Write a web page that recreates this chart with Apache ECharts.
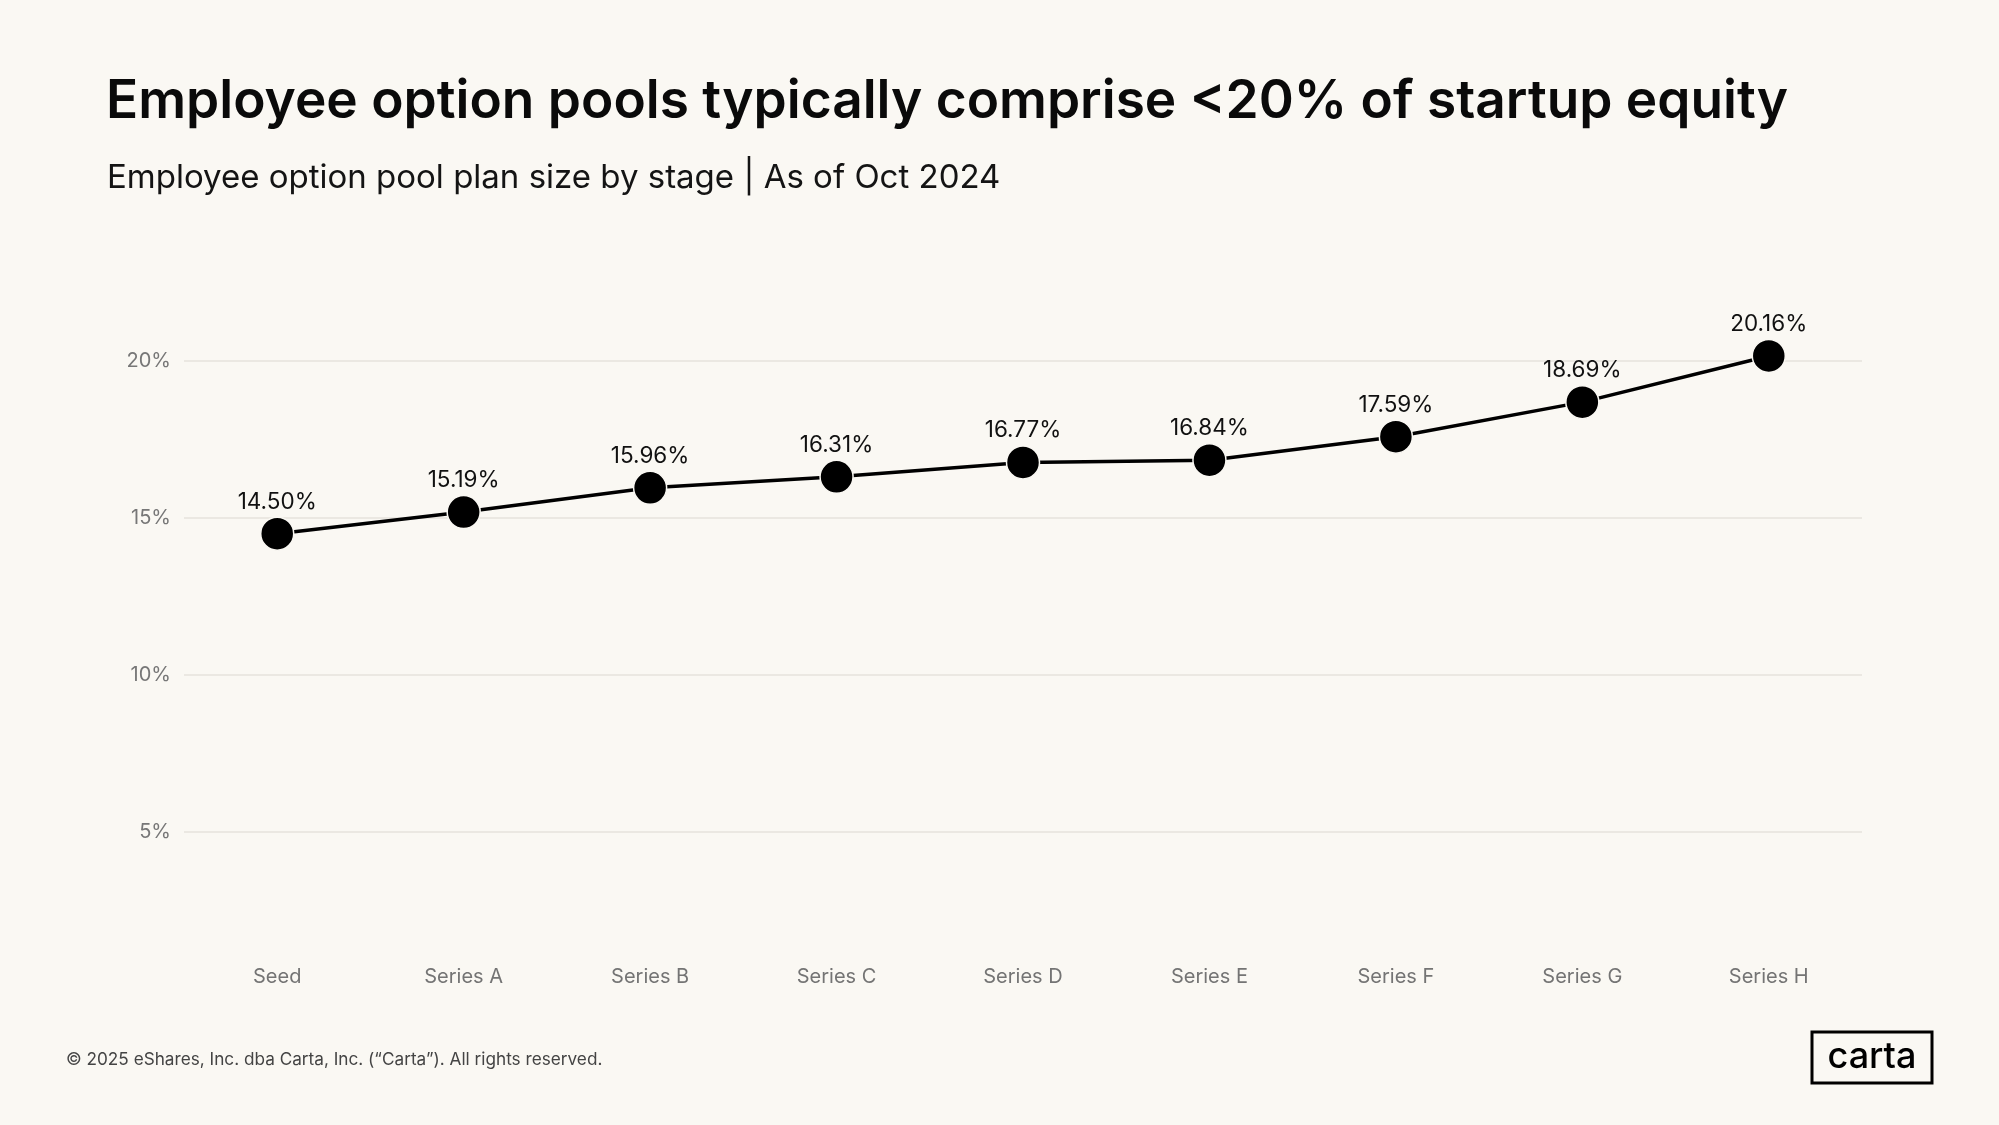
<!DOCTYPE html>
<html>
<head>
<meta charset="utf-8">
<script src="https://cdn.jsdelivr.net/npm/echarts@6/dist/echarts.min.js"></script>
<style>
html,body{margin:0;padding:0;background:#FAF8F3;}
#chart{width:1999px;height:1125px;}
</style>
</head>
<body>
<div id="chart"></div>
<script>
const stages = ['Seed','Series A','Series B','Series C','Series D','Series E','Series F','Series G','Series H'];
const poolSize = [14.50, 15.19, 15.96, 16.31, 16.77, 16.84, 17.59, 18.69, 20.16];
const yTicks = [0, 5, 10, 15, 20];

const titleText = 'Employee option pools typically comprise <20% of startup equity';
const subtitleText = 'Employee option pool plan size by stage | As of Oct 2024';
const footerText = '\u00A9 2025 eShares, Inc. dba Carta, Inc. (\u201CCarta\u201D). All rights reserved.';

const FONT = 'Inter';
const chart = echarts.init(document.getElementById('chart'), null, {renderer:'canvas'});
chart.setOption({
  backgroundColor: '#FAF8F3',
  animation: false,
  title: [
    {text: titleText, left: 101, top: 71,
     textStyle: {fontFamily: FONT, fontSize: 53.2, fontWeight: 600, color: '#0a0a0a'}},
    {text: subtitleText, left: 102, top: 157,
     textStyle: {fontFamily: FONT, fontSize: 33, fontWeight: 400, color: '#141414'}}
  ],
  grid: {left: 184, right: 137, top: 361, bottom: 136},
  xAxis: {
    type: 'category', data: stages, boundaryGap: true,
    offset: -30,
    axisLine: {show: false}, axisTick: {show: false},
    axisLabel: {color: '#747474', fontFamily: FONT, fontSize: 20, margin: 8}
  },
  yAxis: {
    type: 'value', min: yTicks[0], max: yTicks[yTicks.length-1], interval: 5,
    axisLine: {show: false}, axisTick: {show: false},
    axisLabel: {color: '#777777', fontFamily: FONT, fontSize: 20, margin: 13,
      showMinLabel: false, formatter: v => v + '%'},
    splitLine: {show: true, showMinLine: false, lineStyle: {color: '#E6E3DD', width: 1.5}}
  },
  series: [{
    type: 'line', data: poolSize, clip: false,
    symbol: 'circle', symbolSize: 33,
    lineStyle: {color: '#000', width: 3.5},
    itemStyle: {color: '#000', borderColor: '#FAF8F3', borderWidth: 1.5},
    label: {show: true, position: 'top', distance: 3, color: '#111', fontFamily: FONT,
      fontSize: 22.5, formatter: p => p.value.toFixed(2) + '%'}
  }],
  graphic: [
    {type: 'text', left: 66, top: 1051,
     style: {text: footerText, fill: '#444', font: '400 17.2px Inter'}},
    {type: 'rect', shape: {x: 1812, y: 1032, width: 120, height: 51},
     style: {fill: 'none', stroke: '#000', lineWidth: 3}},
    {type: 'text', x: 1872, y: 1057,
     style: {text: 'carta', fill: '#000', font: '500 36px Inter', align: 'center', verticalAlign: 'middle'}}
  ]
});
</script>
</body>
</html>
